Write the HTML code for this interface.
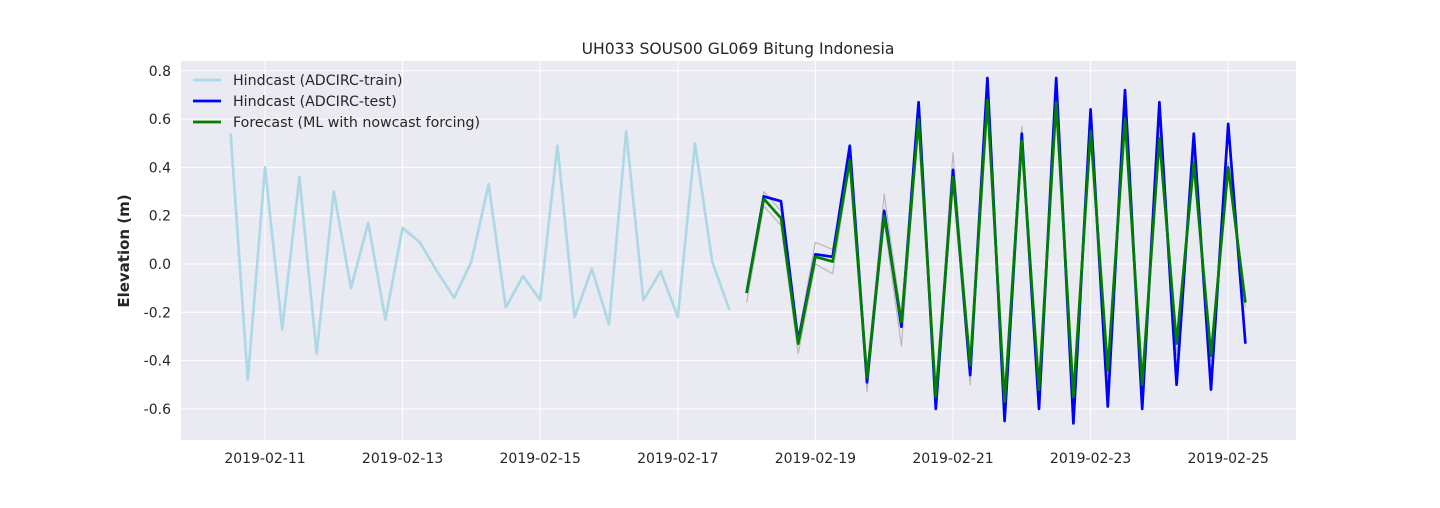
<!DOCTYPE html>
<html><head><meta charset="utf-8"><style>
body{margin:0;background:#fff;width:1440px;height:504px;overflow:hidden;font-family:"DejaVu Sans","Liberation Sans",sans-serif}
text{font-family:"DejaVu Sans","Liberation Sans",sans-serif}
</style></head><body>
<svg id="chart" width="1440" height="504" xmlns="http://www.w3.org/2000/svg"></svg>
<script>
const trainStart = Date.UTC(2019,1,10,12);
const trainVals = [0.54,-0.48,0.40,-0.27,0.36,-0.37,0.30,-0.10,0.17,-0.23,0.15,0.09,-0.03,-0.14,0.01,0.33,-0.18,-0.05,-0.15,0.49,-0.22,-0.02,-0.25,0.55,-0.15,-0.03,-0.22,0.50,0.01,-0.19];
const testStart = Date.UTC(2019,1,18,0);
const testVals = [-0.12,0.28,0.26,-0.32,0.04,0.03,0.49,-0.49,0.22,-0.26,0.67,-0.60,0.39,-0.46,0.77,-0.65,0.54,-0.60,0.77,-0.66,0.64,-0.59,0.72,-0.60,0.67,-0.50,0.54,-0.52,0.58,-0.33];
const fcVals = [-0.12,0.27,0.19,-0.33,0.03,0.01,0.43,-0.47,0.20,-0.24,0.60,-0.55,0.36,-0.42,0.68,-0.57,0.51,-0.52,0.67,-0.55,0.55,-0.44,0.60,-0.50,0.52,-0.33,0.42,-0.38,0.40,-0.16];
const grayHi = [-0.10,0.30,0.22,-0.30,0.09,0.06,0.45,-0.45,0.29,-0.22,0.62,-0.53,0.46,-0.40,0.70,-0.55,0.57,-0.50,0.69,-0.52,0.58,-0.40,0.62,-0.46,0.55,-0.30,0.45,-0.35,0.42,-0.14];
const grayLo = [-0.16,0.24,0.16,-0.37,0.00,-0.04,0.41,-0.53,0.18,-0.34,0.58,-0.57,0.34,-0.50,0.66,-0.59,0.49,-0.55,0.65,-0.57,0.53,-0.47,0.58,-0.52,0.50,-0.38,0.40,-0.40,0.38,-0.18];
const yTicks = [-0.6,-0.4,-0.2,0.0,0.2,0.4,0.6,0.8];
const xTickLabels = ["2019-02-11","2019-02-13","2019-02-15","2019-02-17","2019-02-19","2019-02-21","2019-02-23","2019-02-25"];
const xTickDates = [Date.UTC(2019,1,11),Date.UTC(2019,1,13),Date.UTC(2019,1,15),Date.UTC(2019,1,17),Date.UTC(2019,1,19),Date.UTC(2019,1,21),Date.UTC(2019,1,23),Date.UTC(2019,1,25)];

const L=181,R=1296,T=61,B=440;
const DAY=86400000, STEP=DAY/4;
const x0 = Date.UTC(2019,1,11), px0=265, pxPerDay=68.8;
function xs(t){return px0+(t-x0)/DAY*pxPerDay;}
function ys(v){return 264 - v*241.5;}
const svg=document.getElementById('chart');
const NS='http://www.w3.org/2000/svg';
function el(tag,attrs,parent){const e=document.createElementNS(NS,tag);for(const k in attrs)e.setAttribute(k,attrs[k]);(parent||svg).appendChild(e);return e;}
const bg=el('rect',{x:L,y:T,width:R-L,height:B-T,fill:'#eaeaf2'});


yTicks.forEach(v=>{
  const g=el('line',{x1:L,x2:R,y1:ys(v),y2:ys(v),stroke:'#fff','stroke-width':1});
  
  
  const t=el('text',{x:L-10,y:ys(v)+5,'text-anchor':'end','font-size':14,fill:'#262626'});
  t.textContent=v.toFixed(1);
  
  
});
xTickDates.forEach((d,i)=>{
  const g=el('line',{x1:xs(d),x2:xs(d),y1:T,y2:B,stroke:'#fff','stroke-width':1});
  
  
  const t=el('text',{x:xs(d),y:B+23,'text-anchor':'middle','font-size':14,fill:'#262626'});
  t.textContent=xTickLabels[i];
  
  
});
function series(start,vals,color,w,name){
  const pts=vals.map((v,i)=>xs(start+i*STEP).toFixed(1)+','+ys(v).toFixed(1)).join(' ');
  const p=el('polyline',{points:pts,fill:'none',stroke:color,'stroke-width':w,'stroke-linejoin':'round'});
  
  
}
series(trainStart,trainVals,'#add8e6',2.7,'hindcast-train-line');
series(testStart,grayHi,'#b8b8b8',1.2,'forecast-upper-line');
series(testStart,grayLo,'#b8b8b8',1.2,'forecast-lower-line');
series(testStart,testVals,'#0000ff',2.7,'hindcast-test-line');
series(testStart,fcVals,'#008000',2.7,'forecast-line');
const title=el('text',{x:738,y:54,'text-anchor':'middle','font-size':15.6,fill:'#262626'});
title.textContent='UH033 SOUS00 GL069 Bitung Indonesia';


const yl=el('text',{x:129,y:251,'text-anchor':'middle','font-size':15,'font-weight':'bold',fill:'#262626',transform:'rotate(-90 129 251)'});
yl.textContent='Elevation (m)';


const legendItems=[['Hindcast (ADCIRC-train)','#add8e6'],['Hindcast (ADCIRC-test)','#0000ff'],['Forecast (ML with nowcast forcing)','#008000']];
legendItems.forEach((it,i)=>{
  const y=80+i*21;
  const ln=el('line',{x1:193,x2:221,y1:y,y2:y,stroke:it[1],'stroke-width':2.7});
  
  
  const t=el('text',{x:233,y:y+5,'font-size':14.2,fill:'#262626'});
  t.textContent=it[0];
  
  
});
</script>
</body></html>
